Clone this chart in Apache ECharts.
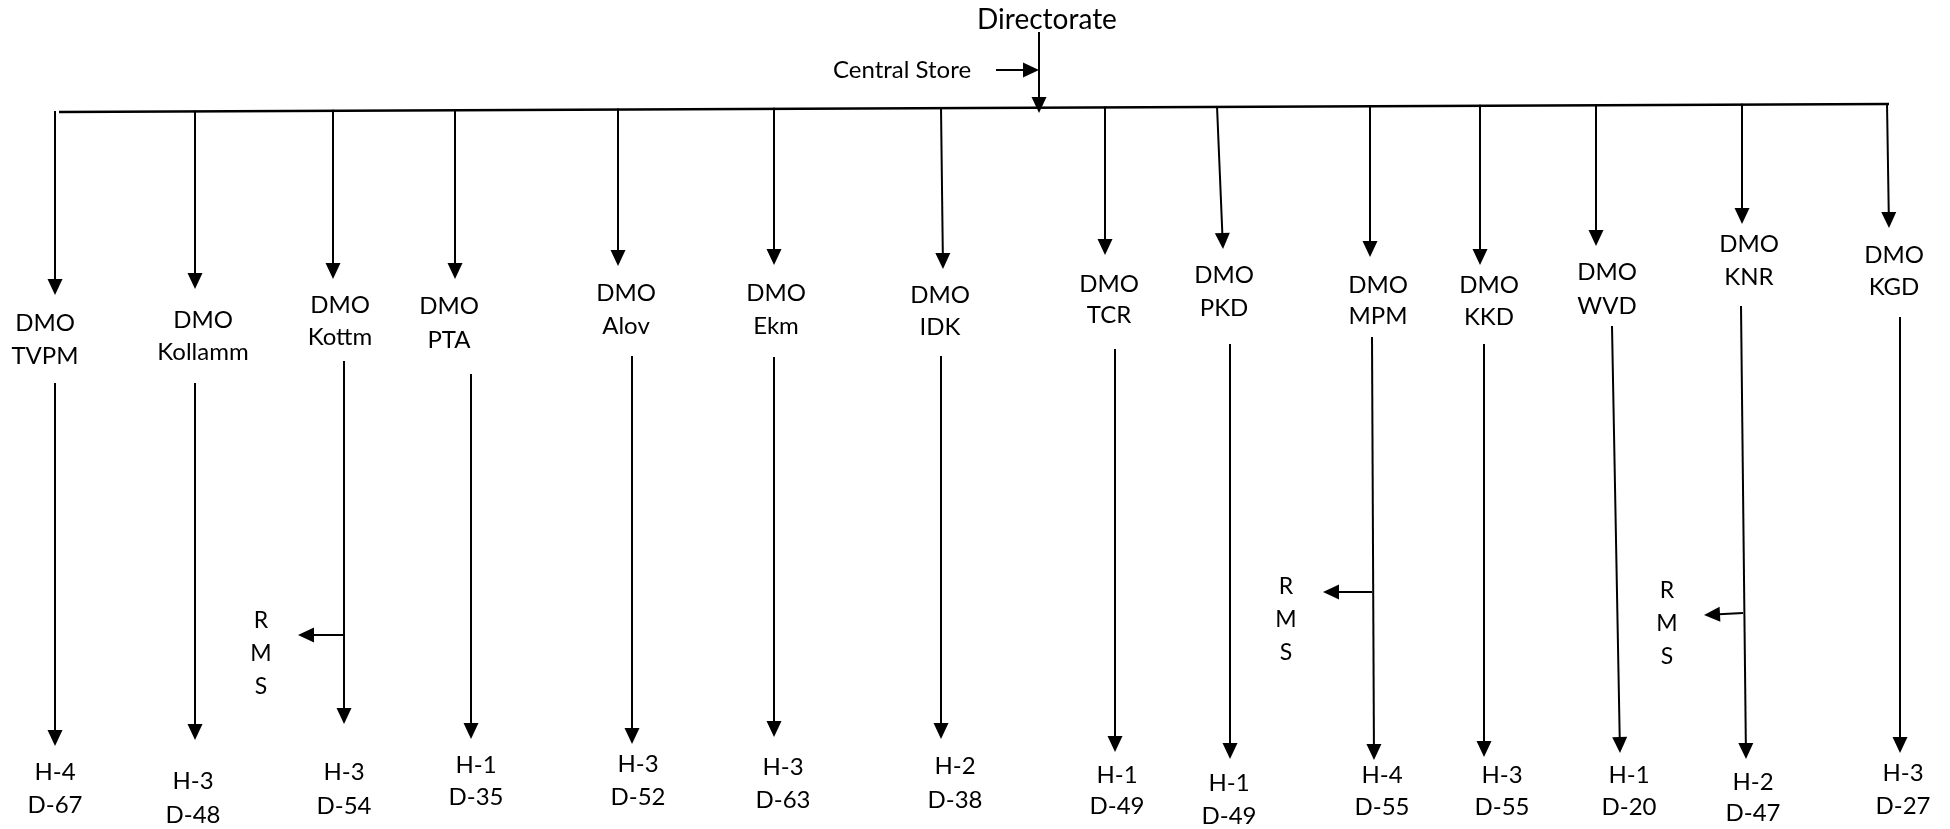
<!DOCTYPE html>
<html><head><meta charset="utf-8">
<script src="https://cdn.jsdelivr.net/npm/echarts@6/dist/echarts.min.js"></script>
<style>html,body{margin:0;padding:0;background:#fff}#c{width:1950px;height:829px}</style>
</head><body><div id="c"></div>
<script>
// ---- content ----
const rootLabel = 'Directorate';
const storeLabel = 'Central Store';
const officePrefix = 'DMO';
const districts = ['TVPM','Kollamm','Kottm','PTA','Alov','Ekm','IDK','TCR','PKD','MPM','KKD','WVD','KNR','KGD'];
const hospitals = [4,3,3,1,3,3,2,1,1,4,3,1,2,3];
const dispensaries = [67,48,54,35,52,63,38,49,49,55,55,20,47,27];
const rmsUnits = ['Kottm','MPM','KNR'];
const rmsLetters = ['R','M','S'];

// ---- layout (positions in the 1950x829 frame) ----
const busLine = [[59,112],[1888,104]];
const rootPos = [1047,20];
const rootArrow = [1039,32,1039,113];
const storePos = [902,70];
const storeArrow = [996,70,1039,70];
// topX0, topX1, topTip, labelX, dmoY, nameY, lowX0, lowY0, lowX1, lowTip, hdX, hY, dY
const colLayout = [
 [55,55,295, 45,323,356, 55,383,55,746, 55,772,805],
 [195,195,289, 203,320,352, 195,383,195,740, 193,781,815],
 [333,333,279, 340,305,337, 344,361,344,724, 344,772,806],
 [455,455,279, 449,306,340, 471,374,471,739, 476,765,797],
 [618,618,266, 626,293,326, 632,356,632,744, 638,764,797],
 [774,774,265, 776,293,326, 774,357,774,737, 783,767,800],
 [941,943,269, 940,295,327, 941,356,941,739, 955,766,800],
 [1105,1105,255, 1109,284,315, 1115,349,1115,752, 1117,775,806],
 [1217,1223,249, 1224,275,308, 1230,344,1230,759, 1229,783,816],
 [1370,1370,257, 1378,285,316, 1372,337,1374,760, 1382,775,807],
 [1480,1480,265, 1489,285,317, 1484,344,1484,757, 1502,775,807],
 [1596,1596,246, 1607,272,306, 1612,326,1620,753, 1629,775,807],
 [1742,1742,224, 1749,244,277, 1741,306,1746,759, 1753,782,813],
 [1887,1889,228, 1894,255,287, 1900,317,1900,753, 1903,773,806]
];
// branchX, branchY, tipX, tipY, letterX, firstLetterY
const rmsLayout = {
 Kottm: [344,635,298,635,261,621],
 MPM: [1372,592,1323,592,1286,587],
 KNR: [1743,613,1704,615,1667,591]
};
const rmsStep = 33;
const FONT = 'Lato, "Open Sans", sans-serif';

function busY(x){
  const [a,b] = busLine;
  return a[1] + (b[1]-a[1])*(x-a[0])/(b[0]-a[0]);
}

// ---- build arrows [x1,y1,x2,y2,hasHead,lineWidth] ----
const arrows = [];
arrows.push([busLine[0][0],busLine[0][1],busLine[1][0],busLine[1][1],0,2.6]);
arrows.push(rootArrow.concat([1,2]));
arrows.push(storeArrow.concat([1,2]));
districts.forEach((d,i)=>{
  const L = colLayout[i];
  arrows.push([L[0],busY(L[0])-1,L[1],L[2],1,2]);
  arrows.push([L[6],L[7],L[8],L[9],1,2]);
});
rmsUnits.forEach(u=>{
  const R = rmsLayout[u];
  arrows.push([R[0],R[1],R[2],R[3],1,2]);
});

// ---- build texts ----
const texts = [];
texts.push({x:rootPos[0],y:rootPos[1],text:rootLabel,size:28});
texts.push({x:storePos[0],y:storePos[1],text:storeLabel,size:24});
districts.forEach((d,i)=>{
  const L = colLayout[i];
  texts.push({x:L[3],y:L[4],text:officePrefix,size:24});
  texts.push({x:L[3],y:L[5],text:d,size:24});
  texts.push({x:L[10],y:L[11],text:'H-'+hospitals[i],size:24});
  texts.push({x:L[10],y:L[12],text:'D-'+dispensaries[i],size:24});
});
rmsUnits.forEach(u=>{
  const R = rmsLayout[u];
  rmsLetters.forEach((ch,k)=>{
    texts.push({x:R[4],y:R[5]+k*rmsStep,text:ch,size:23});
  });
});

const chart = echarts.init(document.getElementById('c'));
chart.setOption({
  backgroundColor:'#ffffff',
  animation:false,
  grid:{left:0,right:0,top:0,bottom:0},
  xAxis:{type:'value',min:0,max:1950,show:false},
  yAxis:{type:'value',min:0,max:829,inverse:true,show:false},
  series:[
    {
      type:'custom',
      coordinateSystem:'cartesian2d',
      data:arrows,
      renderItem:function(params,api){
        const p1 = api.coord([api.value(0),api.value(1)]);
        const p2 = api.coord([api.value(2),api.value(3)]);
        const head = api.value(4);
        const lw = api.value(5);
        const dx = p2[0]-p1[0], dy = p2[1]-p1[1];
        const len = Math.hypot(dx,dy)||1;
        const ux = dx/len, uy = dy/len;
        const HL = 16, HW = 7.5;
        const base = head ? [p2[0]-ux*HL, p2[1]-uy*HL] : p2;
        const children = [{
          type:'line',
          shape:{x1:p1[0],y1:p1[1],x2:base[0]+ux,y2:base[1]+uy},
          style:{stroke:'#000',lineWidth:lw,lineCap:'butt'}
        }];
        if(head){
          children.push({
            type:'polygon',
            shape:{points:[p2,[base[0]-uy*HW,base[1]+ux*HW],[base[0]+uy*HW,base[1]-ux*HW]]},
            style:{fill:'#000'}
          });
        }
        return {type:'group',children:children};
      },
      silent:true
    },
    {
      type:'custom',
      coordinateSystem:'cartesian2d',
      data:texts.map(t=>[t.x,t.y]),
      renderItem:function(params,api){
        const t = texts[params.dataIndex];
        const p = api.coord([api.value(0),api.value(1)]);
        return {
          type:'text',
          style:{text:t.text,x:p[0],y:p[1],fill:'#000',fontSize:t.size,fontFamily:FONT,align:'center',verticalAlign:'middle'}
        };
      },
      silent:true
    }
  ]
});
</script>
</body></html>
